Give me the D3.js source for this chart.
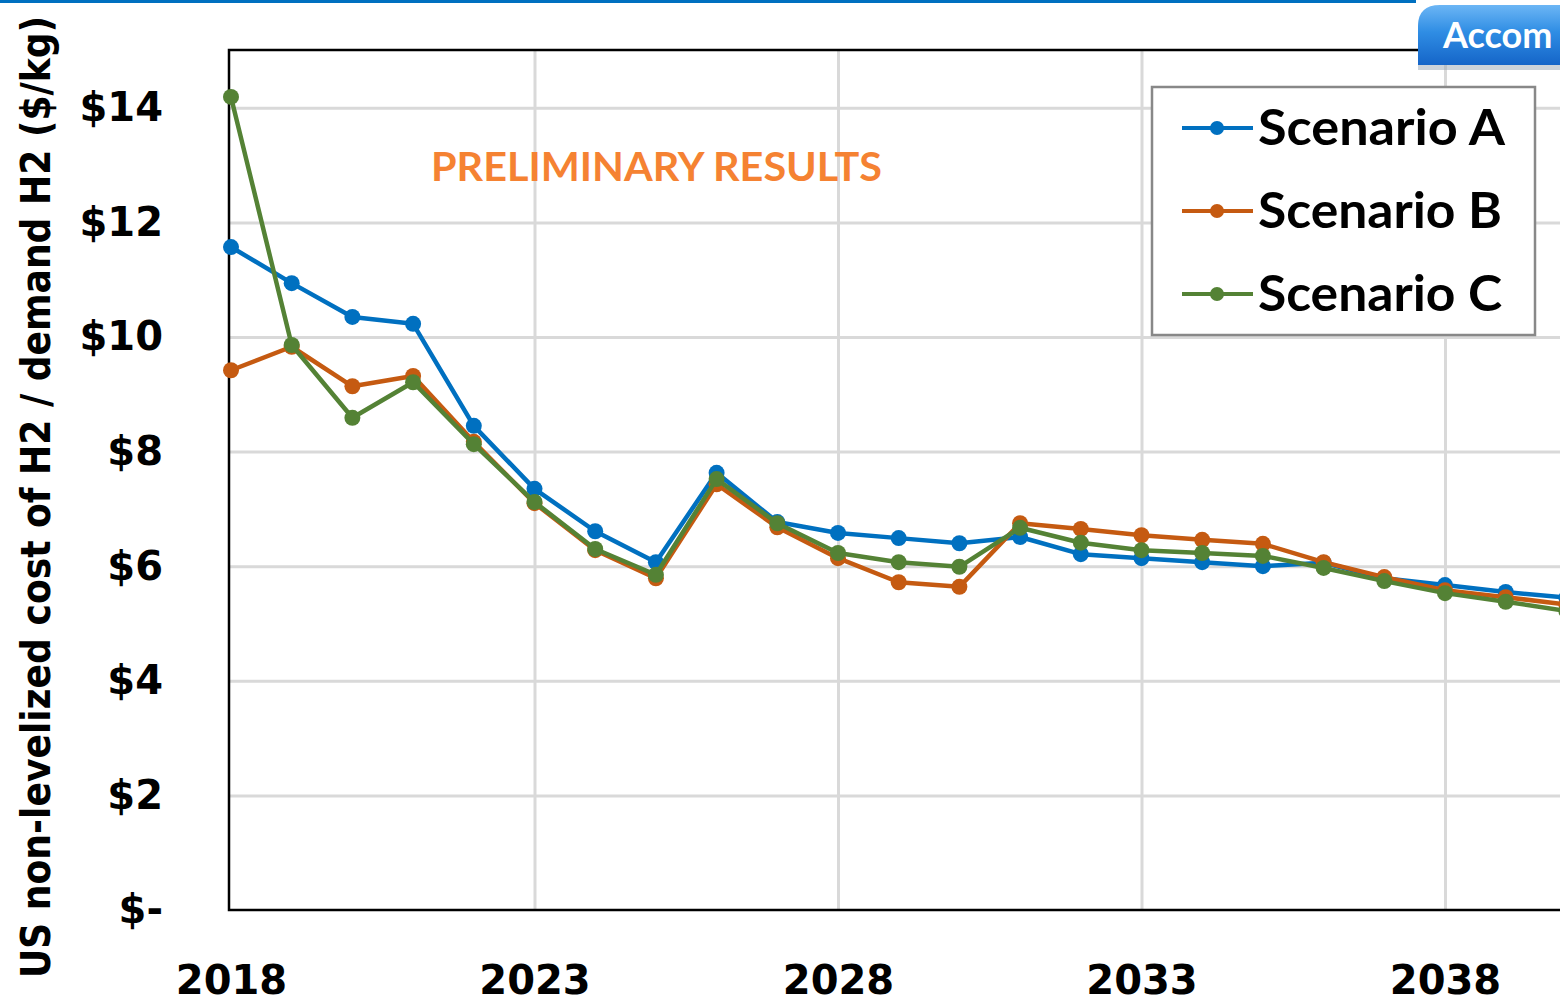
<!DOCTYPE html>
<html>
<head>
<meta charset="utf-8">
<script src="https://cdn.jsdelivr.net/npm/d3@7"></script>
<style>
  body { margin: 0; background: #fff; }
  svg { display: block; }
</style>
</head>
<body>
<script>
var width = 1560,
    height = 1003;

// data
var years = [2018, 2019, 2020, 2021, 2022, 2023, 2024, 2025, 2026, 2027, 2028,
             2029, 2030, 2031, 2032, 2033, 2034, 2035, 2036, 2037, 2038, 2039, 2040];
var scenarioA = [11.57, 10.94, 10.35, 10.23, 8.45, 7.35, 6.61, 6.07, 7.63, 6.77, 6.58,
                 6.49, 6.40, 6.51, 6.21, 6.14, 6.07, 6.00, 6.06, 5.79, 5.67, 5.55, 5.45];
var scenarioB = [9.42, 9.83, 9.14, 9.32, 8.17, 7.10, 6.28, 5.79, 7.43, 6.68, 6.14,
                 5.72, 5.64, 6.75, 6.65, 6.54, 6.46, 6.39, 6.07, 5.81, 5.58, 5.46, 5.33];
var scenarioC = [14.19, 9.86, 8.59, 9.21, 8.13, 7.12, 6.30, 5.85, 7.52, 6.75, 6.23,
                 6.07, 5.99, 6.67, 6.41, 6.28, 6.23, 6.18, 5.97, 5.74, 5.53, 5.38, 5.22];
var seriesNames = ["Scenario A", "Scenario B", "Scenario C"];
var seriesColors = ["#0070C0", "#C55A11", "#548235"];
var xTicks = [2018, 2023, 2028, 2033, 2038];
var yTicks = [0, 2, 4, 6, 8, 10, 12, 14];

var series = [scenarioA, scenarioB, scenarioC].map(function(vals, i){
    return { name: seriesNames[i], color: seriesColors[i],
             values: vals.map(function(v, j){ return { year: years[j], value: v }; }) };
});

var plotLeft = 229, plotTop = 50, plotBottom = 910;

var x = d3.scaleLinear()
    .domain([2018, 2040])
    .range([231, 231 + 22 * 60.7]);

var y = d3.scaleLinear()
    .domain([0, 15])
    .range([plotBottom, plotBottom - 15 * 57.3]);

var svg = d3.select("body").append("svg")
    .attr("width", width)
    .attr("height", height);

// blue rule at the very top of the slide
svg.append("rect")
    .attr("x", 0).attr("y", 0)
    .attr("width", 1416).attr("height", 3)
    .attr("fill", "#0070C0");

// grid
svg.append("g")
    .attr("transform", "translate(" + plotLeft + ",0)")
    .call(d3.axisLeft(y).tickValues(yTicks.slice(1)).tickSize(-(width - plotLeft)).tickFormat(""))
    .call(function(g){
        g.select(".domain").remove();
        g.selectAll("line").attr("stroke", "#D9D9D9").attr("stroke-width", 3);
    });

svg.append("g")
    .attr("transform", "translate(0," + plotBottom + ")")
    .call(d3.axisBottom(x).tickValues(xTicks.slice(1)).tickSize(-(plotBottom - plotTop)).tickFormat(""))
    .call(function(g){
        g.select(".domain").remove();
        g.selectAll("line").attr("stroke", "#D9D9D9").attr("stroke-width", 3);
    });

// frame
svg.append("path")
    .attr("d", "M1420," + plotTop + "H" + plotLeft + "V" + plotBottom + "H" + width)
    .attr("fill", "none")
    .attr("stroke", "#000")
    .attr("stroke-width", 2.5);

// axes labels
svg.append("g")
    .attr("transform", "translate(" + plotLeft + ",0)")
    .call(d3.axisLeft(y).tickValues(yTicks).tickSize(0).tickPadding(66)
        .tickFormat(function(d){ return d === 0 ? "$-" : "$" + d; }))
    .call(function(g){
        g.select(".domain").remove();
        g.selectAll("text")
            .attr("fill", "#000")
            .style("font-family", "'DejaVu Sans', Verdana, sans-serif")
            .style("font-weight", "bold")
            .style("font-size", "40px");
    });

svg.append("g")
    .attr("transform", "translate(0," + plotBottom + ")")
    .call(d3.axisBottom(x).tickValues(xTicks).tickSize(0).tickPadding(0)
        .tickFormat(d3.format("d")))
    .call(function(g){
        g.select(".domain").remove();
        g.selectAll("text")
            .attr("y", 84)
            .attr("dy", null)
            .attr("fill", "#000")
            .style("font-family", "'DejaVu Sans', Verdana, sans-serif")
            .style("font-weight", "bold")
            .style("font-size", "40px");
    });

svg.append("text")
    .attr("transform", "translate(50,497) rotate(-90)")
    .attr("text-anchor", "middle")
    .attr("textLength", 962)
    .attr("lengthAdjust", "spacingAndGlyphs")
    .style("font-family", "'Liberation Sans Narrow', 'DejaVu Sans Condensed', sans-serif")
    .style("font-weight", "bold")
    .style("font-size", "40px")
    .text("US non-levelized cost of H2 / demand H2 ($/kg)");

svg.append("text")
    .attr("x", 431).attr("y", 181)
    .attr("textLength", 451)
    .attr("lengthAdjust", "spacingAndGlyphs")
    .attr("fill", "#F58232")
    .style("font-family", "Lato, 'Open Sans', sans-serif")
    .style("font-weight", "bold")
    .style("font-size", "40px")
    .text("PRELIMINARY RESULTS");

// lines and markers
var line = d3.line()
    .x(function(d){ return x(d.year); })
    .y(function(d){ return y(d.value); });

svg.append("clipPath").attr("id", "plot")
    .append("rect").attr("x", 0).attr("y", 0).attr("width", width).attr("height", plotBottom);

var sg = svg.append("g").attr("clip-path", "url(#plot)")
    .selectAll("g.series")
    .data(series)
    .enter().append("g")
    .attr("class", "series");

sg.append("path")
    .attr("d", function(d){ return line(d.values); })
    .attr("fill", "none")
    .attr("stroke", function(d){ return d.color; })
    .attr("stroke-width", 4.5)
    .attr("stroke-linejoin", "round");

sg.selectAll("circle")
    .data(function(d){ return d.values.map(function(v){ return { v: v, color: d.color }; }); })
    .enter().append("circle")
    .attr("cx", function(d){ return x(d.v.year); })
    .attr("cy", function(d){ return y(d.v.value); })
    .attr("r", 8)
    .attr("fill", function(d){ return d.color; });

// legend
var legend = svg.append("g");
legend.append("rect")
    .attr("x", 1152).attr("y", 87)
    .attr("width", 383).attr("height", 248)
    .attr("fill", "#fff")
    .attr("stroke", "#888")
    .attr("stroke-width", 2.5);

var li = legend.selectAll("g.item")
    .data(series)
    .enter().append("g")
    .attr("transform", function(d, i){ return "translate(0," + (128 + i * 83) + ")"; });

li.append("line")
    .attr("x1", 1182).attr("x2", 1253)
    .attr("stroke", function(d){ return d.color; })
    .attr("stroke-width", 4);
li.append("circle")
    .attr("cx", 1217).attr("r", 7)
    .attr("fill", function(d){ return d.color; });
li.append("text")
    .attr("x", 1258).attr("y", 17)
    .attr("textLength", function(d, i){ return i === 0 ? 247 : 244; })
    .attr("lengthAdjust", "spacingAndGlyphs")
    .style("font-family", "Lato, 'Open Sans', sans-serif")
    .style("font-weight", "bold")
    .style("font-size", "49px")
    .text(function(d){ return d.name; });

// "Accom..." tab in the top right corner
var defs = svg.append("defs");
var grad = defs.append("linearGradient").attr("id", "tab").attr("x1", 0).attr("y1", 0).attr("x2", 0).attr("y2", 1);
grad.append("stop").attr("offset", "0%").attr("stop-color", "#6CB6F5");
grad.append("stop").attr("offset", "45%").attr("stop-color", "#2F8DE4");
grad.append("stop").attr("offset", "100%").attr("stop-color", "#1565C8");

svg.append("path")
    .attr("d", "M1418,68 V26 Q1418,6 1440,6 H1560 V68 Z")
    .attr("fill", "#9aa7b5")
    .attr("opacity", 0.5)
    .attr("transform", "translate(0,2)");
svg.append("path")
    .attr("d", "M1418,65 V26 Q1418,5 1440,5 H1560 V65 Z")
    .attr("fill", "url(#tab)");
svg.append("text")
    .attr("x", 1443).attr("y", 48)
    .attr("fill", "#fff")
    .style("font-family", "Lato, 'Open Sans', sans-serif")
    .style("font-weight", "bold")
    .style("font-size", "36px")
    .text("Accom");
</script>
</body>
</html>
